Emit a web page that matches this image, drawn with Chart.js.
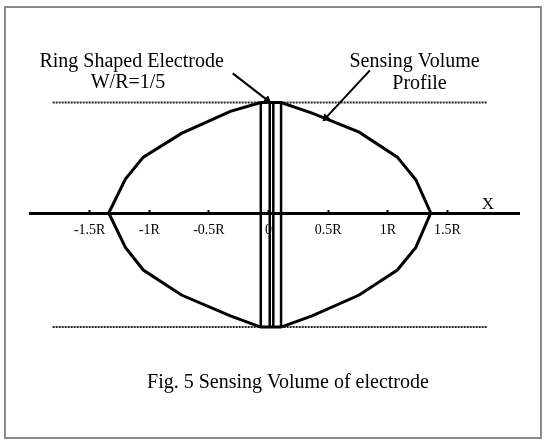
<!DOCTYPE html>
<html>
<head>
<meta charset="utf-8">
<script src="https://cdn.jsdelivr.net/npm/chart.js@4"></script>
<style>
body{margin:0;background:#fff;}
#wrap{position:relative;width:544px;height:441px;}
#frame{position:absolute;left:4px;top:6px;width:534px;height:429px;border:2px solid #8a8a8a;}
#myChart{position:absolute;left:0;top:0;}
</style>
</head>
<body>
<div id="wrap"><div id="frame"></div><canvas id="myChart" width="544" height="441"></canvas></div>
<script>
// all positions in units of R
const tick_values = [-1.5, -1, -0.5, 0, 0.5, 1, 1.5];
const tick_labels = ['-1.5R', '-1R', '-0.5R', '0', '0.5R', '1R', '1.5R'];

// sensing volume profile, walked round from the top left corner
const profile_x = [-0.065, -0.32, -0.73, -1.05, -1.20, -1.34, -1.20, -1.05, -0.73, -0.32, -0.065,
                   0.105, 0.365, 0.76, 1.08, 1.235, 1.36, 1.235, 1.08, 0.76, 0.365, 0.105, -0.065];
const profile_y = [0.93, 0.855, 0.67, 0.47, 0.285, 0, -0.29, -0.48, -0.69, -0.865, -0.96,
                   -0.96, -0.865, -0.69, -0.48, -0.29, 0, 0.28, 0.47, 0.68, 0.84, 0.93, 0.93];

// ring electrode edges
const electrode_x = [-0.065, 0.01, 0.04, 0.105];
const electrode_top = 0.93;
const electrode_bottom = -0.96;

// dotted limit lines
const limit_x = [-1.81, 1.83];
const limit_y = [0.93, -0.96];

// arrows: [x0, y0, x1, y1]
const arrows = [
    [-0.30, 1.175, -0.01, 0.95],
    [0.85, 1.20, 0.48, 0.80]
];

const notes = [
    {text: 'Ring Shaped Electrode', x: -1.148, y: 1.273},
    {text: 'W/R=1/5', x: -1.178, y: 1.097},
    {text: 'Sensing Volume', x: 1.224, y: 1.273},
    {text: 'Profile', x: 1.266, y: 1.089},
    {text: 'X', x: 1.84, y: 0.075, small: true},
    {text: 'Fig. 5 Sensing Volume of electrode', x: 0.163, y: -1.432}
];

function to_points(xs, ys){
    let pts = [];
    for (let i = 0; i < xs.length; i++){
        pts.push({x: xs[i], y: ys[i]});
    }
    return pts;
}

function line_set(data, width, dash){
    return {
        data: data,
        showLine: true,
        borderColor: '#000',
        backgroundColor: '#000',
        borderWidth: width,
        borderDash: dash || [],
        pointRadius: 0,
        tension: 0,
        fill: false
    };
}

let datasets_array = [];
datasets_array.push(line_set(to_points(profile_x, profile_y), 3));
for (const ex of electrode_x){
    datasets_array.push(line_set([{x: ex, y: electrode_top}, {x: ex, y: electrode_bottom}], 2.5));
}
for (const ly of limit_y){
    let ds = line_set([{x: limit_x[0], y: ly}, {x: limit_x[1], y: ly}], 2, [2, 1]);
    ds.borderColor = '#222';
    datasets_array.push(ds);
}
for (const a of arrows){
    let ds = line_set([{x: a[0], y: a[1]}, {x: a[2], y: a[3]}], 2);
    ds.pointStyle = 'triangle';
    ds.pointRadius = ctx => ctx.dataIndex == 1 ? 4 : 0;
    ds.pointRotation = function(ctx){
        const xs = ctx.chart.scales.x, ys = ctx.chart.scales.y;
        const dx = xs.getPixelForValue(a[2]) - xs.getPixelForValue(a[0]);
        const dy = ys.getPixelForValue(a[3]) - ys.getPixelForValue(a[1]);
        return Math.atan2(dx, -dy) * 180 / Math.PI;
    };
    ds.pointBorderWidth = 1;
    datasets_array.push(ds);
}

const notes_plugin = {
    id: 'notes',
    afterDraw(chart){
        const c = chart.ctx;
        const xs = chart.scales.x, ys = chart.scales.y;
        c.save();
        c.fillStyle = '#000';
        c.textAlign = 'center';
        c.textBaseline = 'middle';
        for (const n of notes){
            c.font = (n.small ? 17 : 20) + 'px "Liberation Serif"';
            c.fillText(n.text, xs.getPixelForValue(n.x), ys.getPixelForValue(n.y));
        }
        c.restore();
    }
};

Chart.defaults.font.family = '"Liberation Serif", serif';
Chart.defaults.color = '#000';

const ctx = document.getElementById('myChart').getContext('2d');
const myChart = new Chart(ctx, {
    type: 'scatter',
    data: {datasets: datasets_array},
    options: {
        responsive: false,
        animation: false,
        layout: {padding: {left: 30, right: 25, top: 3, bottom: 20}},
        plugins: {legend: {display: false}, tooltip: {enabled: false}},
        scales: {
            x: {
                type: 'linear',
                min: -2, max: 2.1,
                position: {y: 0},
                afterBuildTicks: function(scale){
                    scale.ticks = tick_values.map(v => ({value: v}));
                },
                border: {display: true, color: '#000', width: 3},
                grid: {
                    display: true,
                    drawOnChartArea: false,
                    drawTicks: true,
                    tickLength: -5,
                    tickWidth: 2,
                    tickColor: '#000'
                },
                ticks: {
                    autoSkip: false,
                    maxRotation: 0,
                    padding: 14,
                    font: {size: 14},
                    callback: function(value){
                        const i = tick_values.indexOf(value);
                        return i >= 0 ? tick_labels[i] : '';
                    }
                }
            },
            y: {
                type: 'linear',
                min: -1.75, max: 1.75,
                display: false
            }
        }
    },
    plugins: [notes_plugin]
});
</script>
</body>
</html>
